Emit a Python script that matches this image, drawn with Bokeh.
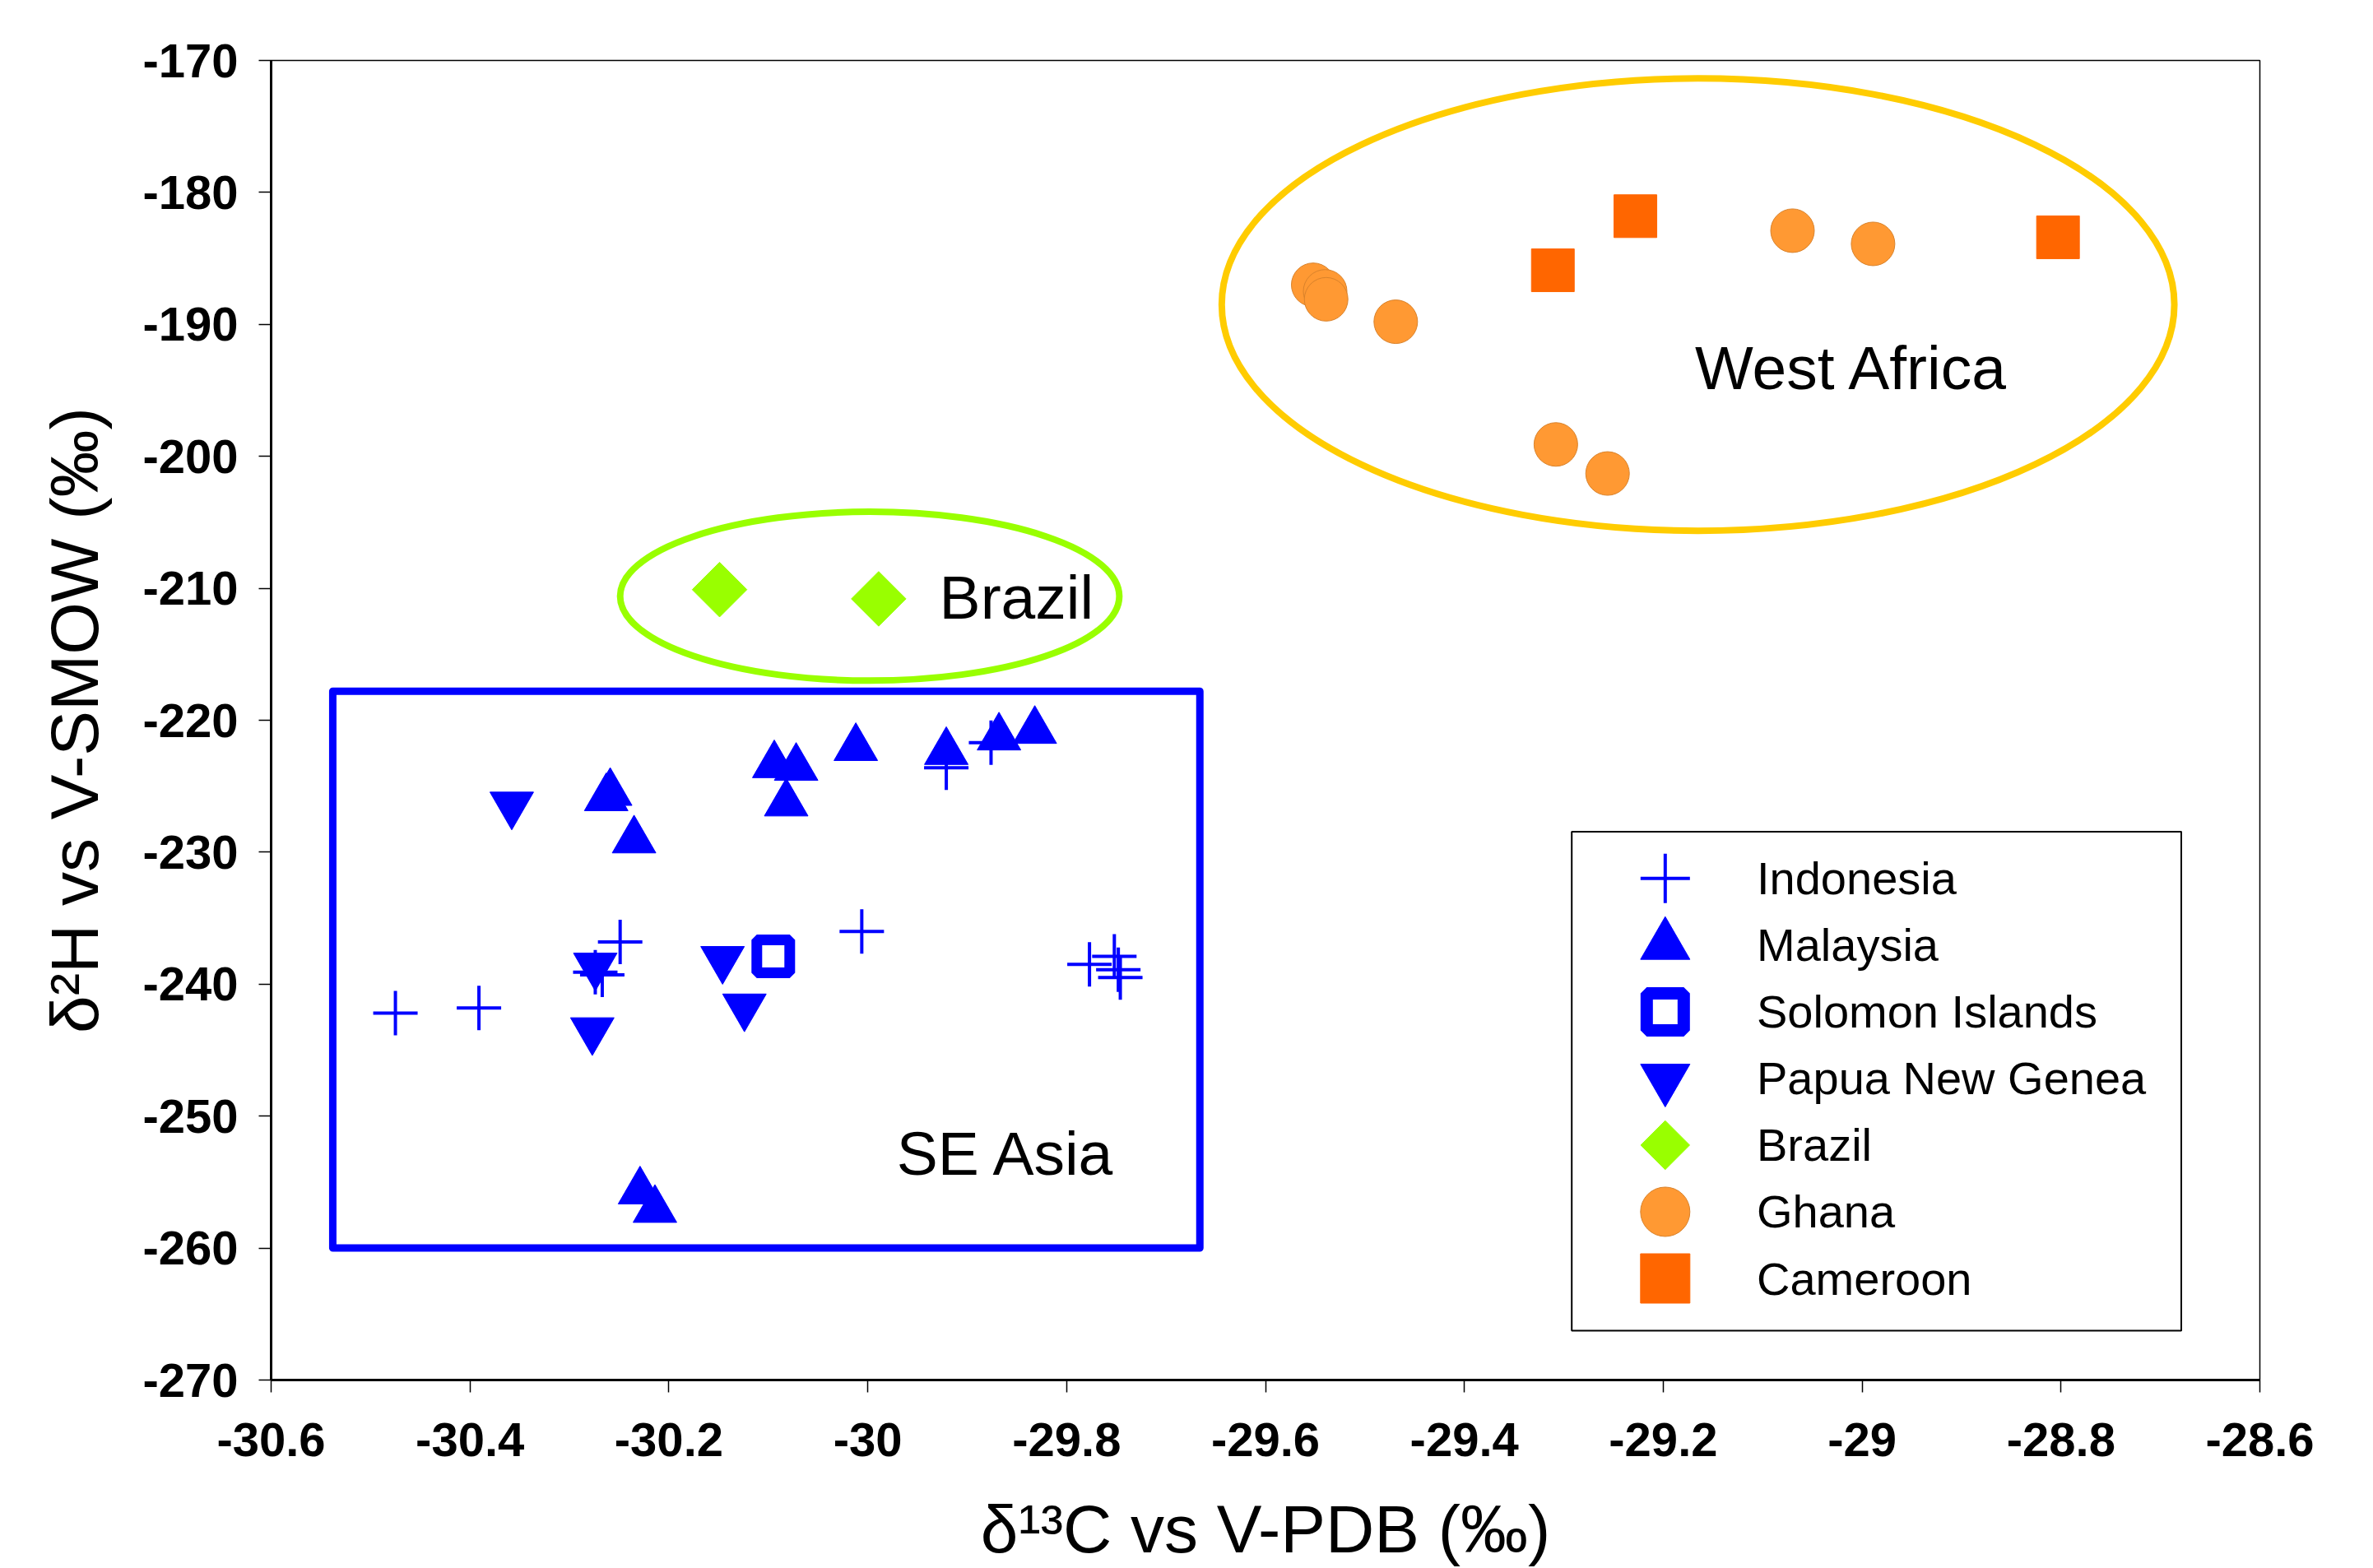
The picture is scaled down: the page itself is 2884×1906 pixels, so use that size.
import math
from bokeh.plotting import figure
from bokeh.models import FixedTicker
from bokeh.embed import file_html
from bokeh.resources import INLINE
from bokeh.core.properties import value

# ---------------- data ----------------
indonesia_x = [-30.475, -30.391, -30.249, -30.274, -30.267, -30.006, -29.921, -29.876, -29.777, -29.752, -29.748, -29.746]
indonesia_y = [-242.2, -241.8, -236.8, -239.1, -239.3, -236.0, -223.6, -221.7, -238.5, -237.9, -238.9, -239.5]

malaysia_x = [-30.259, -30.263, -30.235, -30.094, -30.072, -30.082, -30.012, -29.921, -29.868, -29.832, -30.229, -30.214]
malaysia_y = [-225.5, -225.9, -229.1, -223.4, -223.6, -226.3, -222.1, -222.4, -221.3, -220.8, -255.7, -257.1]

solomon_x = [-30.095]
solomon_y = [-237.9]

png_x = [-30.358, -30.274, -30.277, -30.146, -30.124]
png_y = [-226.4, -238.6, -243.5, -238.1, -241.7]

brazil_x = [-30.149, -29.989]
brazil_y = [-210.1, -210.8]

ghana_x = [-29.552, -29.540, -29.539, -29.469, -29.070, -28.989, -29.308, -29.256]
ghana_y = [-187.0, -187.5, -188.1, -189.8, -182.9, -183.9, -199.1, -201.3]

cameroon_x = [-29.311, -29.228, -28.803]
cameroon_y = [-185.9, -181.8, -183.4]

series_names = ["Indonesia", "Malaysia", "Solomon Islands", "Papua New Genea", "Brazil", "Ghana", "Cameroon"]

x_ticks = [-30.6, -30.4, -30.2, -30, -29.8, -29.6, -29.4, -29.2, -29, -28.8, -28.6]
x_tick_labels = ["-30.6", "-30.4", "-30.2", "-30", "-29.8", "-29.6", "-29.4", "-29.2", "-29", "-28.8", "-28.6"]
y_ticks = [-270, -260, -250, -240, -230, -220, -210, -200, -190, -180, -170]
y_tick_labels = ["-270", "-260", "-250", "-240", "-230", "-220", "-210", "-200", "-190", "-180", "-170"]

region_labels = ["West Africa", "Brazil", "SE Asia"]

# ---------------- styling ----------------
BLUE = "#0000FF"
GREEN = "#99FF00"
GHANA = "#FF9933"
GHANA_EDGE = "#D9822B"
CAMEROON = "#FF6600"
GOLD = "#FFCC00"
FONT = "Liberation Sans"

p = figure(width=2884, height=1906, output_backend="svg", toolbar_location=None,
           x_range=(-30.6, -28.6), y_range=(-270, -170),
           min_border_left=329, min_border_right=138, min_border_top=73, min_border_bottom=228)
p.background_fill_color = "white"
p.border_fill_color = "white"
p.outline_line_color = "black"
p.outline_line_width = 1.5
p.xgrid.visible = False
p.ygrid.visible = False

# group outlines
p.quad(left=[-30.538], right=[-29.666], top=[-217.8], bottom=[-260.0],
       fill_color=None, line_color=BLUE, line_width=9, line_join="round")
p.ellipse(x=[-29.998], y=[-210.6], width=[0.502], height=[12.8],
          fill_color=None, line_color=GREEN, line_width=8)
p.ellipse(x=[-29.165], y=[-188.5], width=[0.958], height=[34.3],
          fill_color=None, line_color=GOLD, line_width=8)

# data series
p.scatter(indonesia_x, indonesia_y, marker="cross", size=54, line_color=BLUE, line_width=4)
p.scatter(malaysia_x, malaysia_y, marker="triangle", size=53,
          fill_color=BLUE, line_color=BLUE, line_width=1)
p.scatter(solomon_x, solomon_y, marker="square", size=40,
          fill_color="white", line_color=BLUE, line_width=13)
p.scatter(png_x, png_y, marker="inverted_triangle", size=53,
          fill_color=BLUE, line_color=BLUE, line_width=1)
p.scatter(brazil_x, brazil_y, marker="square", size=47, angle=math.pi / 4,
          fill_color=GREEN, line_color=GREEN, line_width=1)
p.scatter(ghana_x, ghana_y, marker="circle", size=53,
          fill_color=GHANA, line_color=GHANA_EDGE, line_width=1)
p.scatter(cameroon_x, cameroon_y, marker="square", size=52,
          fill_color=CAMEROON, line_color=CAMEROON, line_width=1)

# region labels
p.text(x=[-29.010], y=[-193.3], text=[region_labels[0]], text_font=value(FONT),
       text_font_size="75px", text_align="center", text_baseline="alphabetic", text_color="black")
p.text(x=[-29.928, -29.971], y=[-210.7, -252.8], text=[region_labels[1], region_labels[2]],
       text_font=value(FONT), text_font_size="75px", text_align="left",
       text_baseline="alphabetic", text_color="black")

# ---------------- legend (boxed key, laid out in the lower right) ----------------
LEG_LEFT, LEG_RIGHT, LEG_TOP, LEG_BOTTOM = -29.292, -28.679, -228.44, -266.26
LEG_MARK_X, LEG_TEXT_X = -29.198, -29.106
LEG_ROW0, LEG_STEP = -231.99, 5.052
leg_y = [LEG_ROW0 - i * LEG_STEP for i in range(len(series_names))]

p.quad(left=[LEG_LEFT], right=[LEG_RIGHT], top=[LEG_TOP], bottom=[LEG_BOTTOM],
       fill_color="white", line_color="black", line_width=2)
p.scatter([LEG_MARK_X], [leg_y[0]], marker="cross", size=60, line_color=BLUE, line_width=4)
p.scatter([LEG_MARK_X], [leg_y[1]], marker="triangle", size=60,
          fill_color=BLUE, line_color=BLUE, line_width=1)
p.scatter([LEG_MARK_X], [leg_y[2]], marker="square", size=45,
          fill_color="white", line_color=BLUE, line_width=15)
p.scatter([LEG_MARK_X], [leg_y[3]], marker="inverted_triangle", size=60,
          fill_color=BLUE, line_color=BLUE, line_width=1)
p.scatter([LEG_MARK_X], [leg_y[4]], marker="square", size=42, angle=math.pi / 4,
          fill_color=GREEN, line_color=GREEN, line_width=1)
p.scatter([LEG_MARK_X], [leg_y[5]], marker="circle", size=60,
          fill_color=GHANA, line_color=GHANA_EDGE, line_width=1)
p.scatter([LEG_MARK_X], [leg_y[6]], marker="square", size=60,
          fill_color=CAMEROON, line_color=CAMEROON, line_width=1)
p.text(x=[LEG_TEXT_X] * len(series_names), y=leg_y, text=series_names,
       text_font=value(FONT), text_font_size="56px", text_align="left",
       text_baseline="middle", text_color="black")

# ---------------- axes ----------------
for ax in (p.xaxis[0], p.yaxis[0]):
    ax.axis_line_width = 3
    ax.axis_line_color = "black"
    ax.major_tick_out = 15
    ax.major_tick_in = 0
    ax.major_tick_line_width = 1.5
    ax.minor_tick_line_color = None
    ax.major_label_text_font = FONT
    ax.major_label_text_font_style = "bold"
    ax.major_label_text_font_size = "58px"
    ax.major_label_text_color = "black"
    ax.axis_label_text_font = FONT
    ax.axis_label_text_font_style = "normal"
    ax.axis_label_text_font_size = "82px"
    ax.axis_label_text_color = "black"

p.xaxis.ticker = FixedTicker(ticks=x_ticks)
p.xaxis.major_label_overrides = dict(zip(x_ticks, x_tick_labels))
p.yaxis.ticker = FixedTicker(ticks=y_ticks)
p.yaxis.major_label_overrides = dict(zip(y_ticks, y_tick_labels))
p.xaxis.axis_label = "δ¹³C vs V-PDB (‰)"
p.yaxis.axis_label = "δ²H vs V-SMOW (‰)"
p.xaxis.major_label_standoff = 37
p.xaxis.axis_label_standoff = 40
p.yaxis.major_label_standoff = 25
p.yaxis.axis_label_standoff = 34

open("out.html", "w").write(file_html(p, INLINE))
